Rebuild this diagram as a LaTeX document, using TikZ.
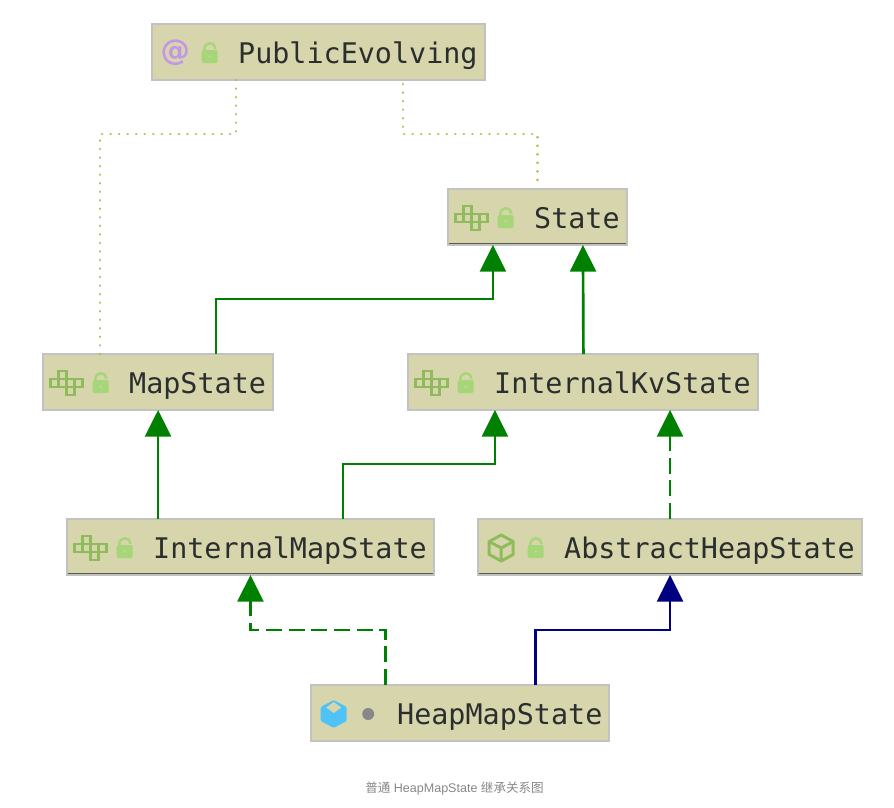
\documentclass[tikz,border=0pt]{standalone}
\usepackage{xcolor}
\usepackage{fontspec}
\usepackage{tikz}
\usetikzlibrary{arrows.meta}
\setmonofont{DejaVu Sans Mono}
\setsansfont{Liberation Sans}
\newfontfamily\capcjk{Noto Sans CJK SC}
\definecolor{umlFill}{HTML}{D6D5AB}
\definecolor{umlBorder}{HTML}{C2C2C2}
\definecolor{umlText}{HTML}{2B2E2E}
\definecolor{umlUnder}{HTML}{5A5A50}
\definecolor{umlDot}{HTML}{B9B94C}
\definecolor{umlGreen}{HTML}{008000}
\definecolor{umlNavy}{HTML}{000080}
\definecolor{iconGreen}{HTML}{8FBB5C}
\definecolor{iconLock}{HTML}{A6D677}
\definecolor{iconPurple}{HTML}{C397E6}
\definecolor{iconBlue}{HTML}{4FC3F7}
\definecolor{iconGrey}{HTML}{87878A}

\begin{document}
\begin{tikzpicture}[
  x=0.75pt, y=-0.75pt,
  classbox/.style={anchor=north west, draw=umlBorder, line width=1.5pt, fill=umlFill, text=umlText,
                   font=\ttfamily\fontsize{21.3}{24}\selectfont, outer sep=0pt, inner ysep=0pt, inner xsep=5.25pt,
                   text height=29.25pt, text depth=12.75pt, execute at begin node={\hspace*{59.25pt}}},
  under/.style={draw=umlUnder, line width=1.3pt},
  ext/.style={-{Triangle[length=20pt,width=19.5pt]}, line width=2pt, draw=umlGreen},
  impl/.style={ext, dash pattern=on 12pt off 5pt},
  absext/.style={-{Triangle[length=20pt,width=19.5pt]}, line width=2pt, draw=umlNavy},
  anno/.style={draw=umlDot, line width=2pt, line cap=round, dash pattern=on 0.1pt off 6.3pt},
  pics/lockicon/.style={code={
    \fill[iconLock, rounded corners=1.5pt] (-8,-3) rectangle (8,10);
    \draw[iconLock, line width=1.8pt] (-5.5,-3) .. controls (-5.5,-12) and (5.5,-12) .. (5.5,-4);
    \fill[umlFill!60!iconLock] (0,3.5) circle (1.6);
  }},
  pics/ifaceicon/.style={code={
    \draw[iconGreen, line width=2.2pt] (-8,-12) rectangle (0,-4);
    \foreach \c in {-16,-8,0,8}{ \draw[iconGreen, line width=2.2pt] (\c,-4) rectangle ++(8,8); }
    \draw[iconGreen, line width=2.2pt] (0,4) rectangle (8,12);
  }},
  pics/cubeicon/.style={code={
    \draw[iconGreen, line width=2.2pt, line join=round] (0,-13) -- (12,-6.5) -- (12,6.5) -- (0,13) -- (-12,6.5) -- (-12,-6.5) -- cycle;
    \draw[iconGreen, line width=2.2pt, line join=round] (-12,-6.5) -- (0,0) -- (12,-6.5) (0,0) -- (0,13);
  }},
  pics/solidcube/.style={code={
    \fill[iconBlue, rounded corners=1pt] (0,-14) -- (13,-7) -- (13,7) -- (0,14) -- (-13,7) -- (-13,-7) -- cycle;
    \fill[umlFill] (0,-12) -- (7.5,-6.5) -- (0,-1) -- (-7.5,-6.5) -- cycle;
  }},
]
\useasboundingbox (0,0) rectangle (894,808);

% ── Class boxes ──────────────────────────────────────────────────────────────
\node[classbox] (PublicEvolving)    at (152.2,24)  {PublicEvolving};
\node[classbox] (State)             at (448.2,189) {State};
\node[classbox] (MapState)          at (43.2,354)  {MapState};
\node[classbox] (InternalKvState)   at (408.2,354) {InternalKvState};
\node[classbox] (InternalMapState)  at (67.2,519)  {InternalMapState};
\node[classbox] (AbstractHeapState) at (478.2,519) {AbstractHeapState};
\node[classbox] (HeapMapState)      at (311.2,685) {HeapMapState};

% ── Dark rule at the foot of some boxes ──────────────────────────────────────
\foreach \n in {State,InternalMapState,AbstractHeapState}{
  \draw[under] ([shift={(1,-1.5)}]\n.south west) -- ([shift={(-1,-1.5)}]\n.south east);
}

% ── Icons: kind + visibility ─────────────────────────────────────────────────
\foreach \n in {State,MapState,InternalKvState,InternalMapState}{
  \pic at ([shift={(23,29)}]\n.north west) {ifaceicon};
}
\foreach \n in {PublicEvolving,State,MapState,InternalKvState,InternalMapState,AbstractHeapState}{
  \pic at ([shift={(57.5,29)}]\n.north west) {lockicon};
}
\node[text=iconPurple, font=\fontspec{DejaVu Sans Bold}\fontsize{22}{24}\selectfont, inner sep=0pt] (atsign)
  at ([shift={(23,29)}]PublicEvolving.north west) {@};
\pic at ([shift={(23,29)}]AbstractHeapState.north west) {cubeicon};
\pic at ([shift={(22.5,29)}]HeapMapState.north west) {solidcube};
\fill[iconGrey] ([shift={(57,29)}]HeapMapState.north west) circle (6);

% ── Annotation links ─────────────────────────────────────────────────────────
\draw[anno] ([shift={(-82.5,0)}]PublicEvolving.south) -- ++(0,54) -| ([shift={(-58,0)}]MapState.north);
\draw[anno] ([shift={(84.5,4)}]PublicEvolving.south) -- ++(0,50) -| ([shift={(0,-4)}]State.north);

% ── Inheritance ──────────────────────────────────────────────────────────────
\draw[ext] ([shift={(58,0)}]MapState.north) -- ++(0,-55) -| ([shift={(-44.5,0)}]State.south);
\draw[ext] ([shift={(0.5,0)}]InternalKvState.north) -- ([shift={(45.5,0)}]State.south);
\draw[ext] (InternalMapState.north -| MapState.south) -- (MapState.south);
\draw[ext] ([shift={(92.5,0)}]InternalMapState.north) -- ++(0,-55) -| ([shift={(-88,0)}]InternalKvState.south);
\draw[impl] (AbstractHeapState.north) -- (AbstractHeapState.north |- InternalKvState.south);
\draw[impl] ([shift={(-74.5,0)}]HeapMapState.north) -- ++(0,-55) -| (InternalMapState.south);
\draw[absext] ([shift={(75.5,0)}]HeapMapState.north) -- ++(0,-55) -| (AbstractHeapState.south);

% ── Caption ──────────────────────────────────────────────────────────────────
\node[text=iconGrey, font=\sffamily\fontsize{9.4}{11}\selectfont, inner sep=0pt] (caption) at (454.5,788.5)
  {{\capcjk 普通} HeapMapState {\capcjk 继承关系图}};

\end{tikzpicture}
\end{document}
